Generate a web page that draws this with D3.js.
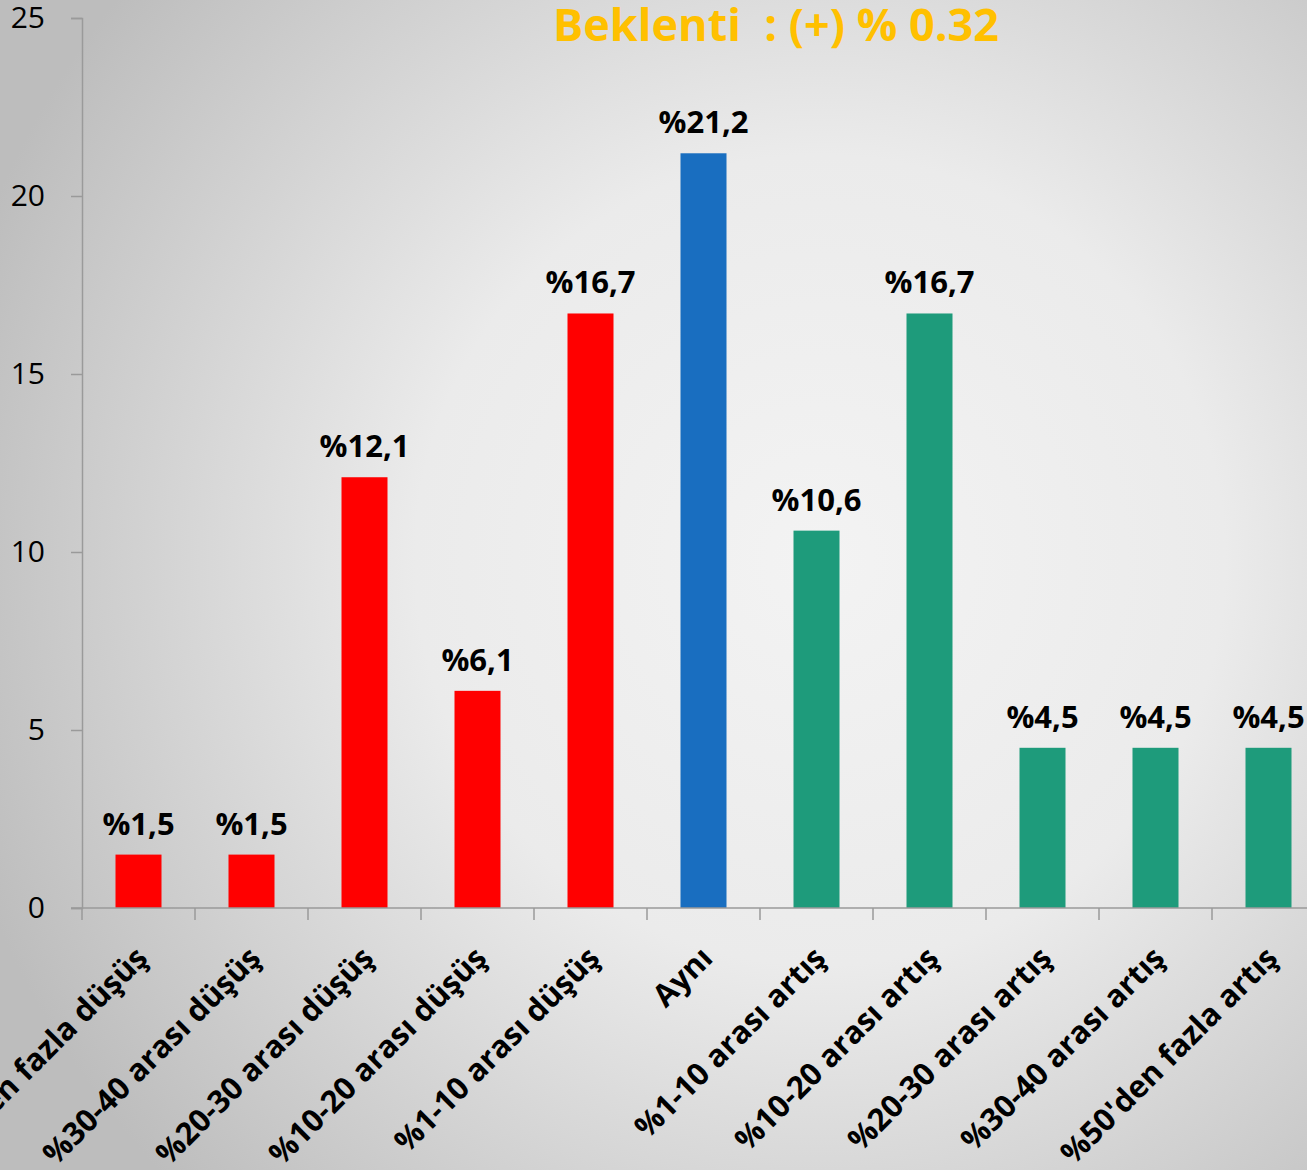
<!DOCTYPE html>
<html>
<head>
<meta charset="utf-8">
<script src="https://cdn.jsdelivr.net/npm/d3@7"></script>
<style>
  html, body { margin: 0; padding: 0; overflow: hidden; }
  svg { display: block; font-family: "Open Sans", sans-serif; }
</style>
</head>
<body>
<svg id="chart"></svg>
<script>
const categories = [
  "%50'den fazla düşüş",
  "%30-40 arası düşüş",
  "%20-30 arası düşüş",
  "%10-20 arası düşüş",
  "%1-10 arası düşüş",
  "Aynı",
  "%1-10 arası artış",
  "%10-20 arası artış",
  "%20-30 arası artış",
  "%30-40 arası artış",
  "%50'den fazla artış"
];
const values = [1.5, 1.5, 12.1, 6.1, 16.7, 21.2, 10.6, 16.7, 4.5, 4.5, 4.5];
const valueLabels = ["%1,5", "%1,5", "%12,1", "%6,1", "%16,7", "%21,2", "%10,6", "%16,7", "%4,5", "%4,5", "%4,5"];
const groups = ["down", "down", "down", "down", "down", "same", "up", "up", "up", "up", "up"];
const yTicks = [0, 5, 10, 15, 20, 25];
const title = "Beklenti  : (+) % 0.32";

const width = 1307, height = 1170;
const margin = { top: 18, left: 82, bottom: 262 };
const step = 113;

const color = d3.scaleOrdinal()
  .domain(["down", "same", "up"])
  .range(["#ff0000", "#196ec0", "#1e9b7b"]);

const svg = d3.select('#chart').attr('width', width).attr('height', height);

// background
const defs = svg.append('defs');
const grad = defs.append('radialGradient')
  .attr('id', 'bg')
  .attr('gradientUnits', 'userSpaceOnUse')
  .attr('cx', 820).attr('cy', 560).attr('r', 900);
grad.append('stop').attr('offset', '0%').attr('stop-color', '#f3f3f3');
grad.append('stop').attr('offset', '45%').attr('stop-color', '#ebebeb');
grad.append('stop').attr('offset', '100%').attr('stop-color', '#bdbdbd');
svg.append('rect').attr('width', width).attr('height', height).attr('fill', 'url(#bg)');

const x = d3.scaleBand()
  .domain(categories)
  .range([margin.left, margin.left + step * categories.length])
  .padding(0);

const y = d3.scaleLinear()
  .domain([0, 25])
  .range([height - margin.bottom, margin.top]);

const barW = 46;

// y axis
const yAxis = svg.append('g')
  .attr('transform', `translate(${margin.left},0)`)
  .call(d3.axisLeft(y).tickValues(yTicks).tickSize(11).tickPadding(26));
yAxis.select('.domain').attr('stroke', '#9a9a9a').attr('stroke-width', 1.5);
yAxis.selectAll('.tick line').attr('stroke', '#9a9a9a').attr('stroke-width', 1.5);
yAxis.selectAll('.tick text')
  .attr('font-size', 30)
  .attr('font-family', '"Open Sans", sans-serif')
  .attr('fill', '#000');

// bars
svg.append('g')
  .selectAll('rect')
  .data(categories)
  .join('rect')
  .attr('x', (d) => x(d) + x.bandwidth() / 2 - barW / 2)
  .attr('y', (d, i) => y(values[i]))
  .attr('width', barW)
  .attr('height', (d, i) => y(0) - y(values[i]))
  .attr('fill', (d, i) => color(groups[i]));

// x axis
const xAxis = svg.append('g')
  .attr('transform', `translate(0,${y(0)})`)
  .call(d3.axisBottom(x).tickSize(0).tickFormat(''));
xAxis.select('.domain').attr('stroke', '#9a9a9a').attr('stroke-width', 1.5)
  .attr('d', `M${margin.left - 11},0H${margin.left + step * categories.length}`);
xAxis.selectAll('.tick').remove();
svg.append('g')
  .selectAll('line')
  .data(d3.range(categories.length + 1))
  .join('line')
  .attr('x1', (i) => margin.left + step * i)
  .attr('x2', (i) => margin.left + step * i)
  .attr('y1', y(0))
  .attr('y2', y(0) + 12)
  .attr('stroke', '#9a9a9a')
  .attr('stroke-width', 1.5);

// category labels
svg.append('g')
  .selectAll('text')
  .data(categories)
  .join('text')
  .attr('transform', (d) => `translate(${x(d) + x.bandwidth() / 2 + 11},960) rotate(-45)`)
  .attr('text-anchor', 'end')
  .attr('font-size', 31)
  .attr('font-weight', 'bold')
  .attr('fill', '#000')
  .text((d) => d);

// value labels
svg.append('g')
  .selectAll('text')
  .data(categories)
  .join('text')
  .attr('x', (d) => x(d) + x.bandwidth() / 2)
  .attr('y', (d, i) => y(values[i]) - 20)
  .attr('text-anchor', 'middle')
  .attr('font-size', 31)
  .attr('font-weight', 'bold')
  .attr('fill', '#000')
  .text((d, i) => valueLabels[i]);

// title
svg.append('text')
  .attr('x', 776)
  .attr('y', 41)
  .attr('text-anchor', 'middle')
  .attr('font-size', 45)
  .attr('font-weight', 'bold')
  .attr('fill', '#ffc000')
  .style('white-space', 'pre')
  .text(title);
</script>
</body>
</html>
